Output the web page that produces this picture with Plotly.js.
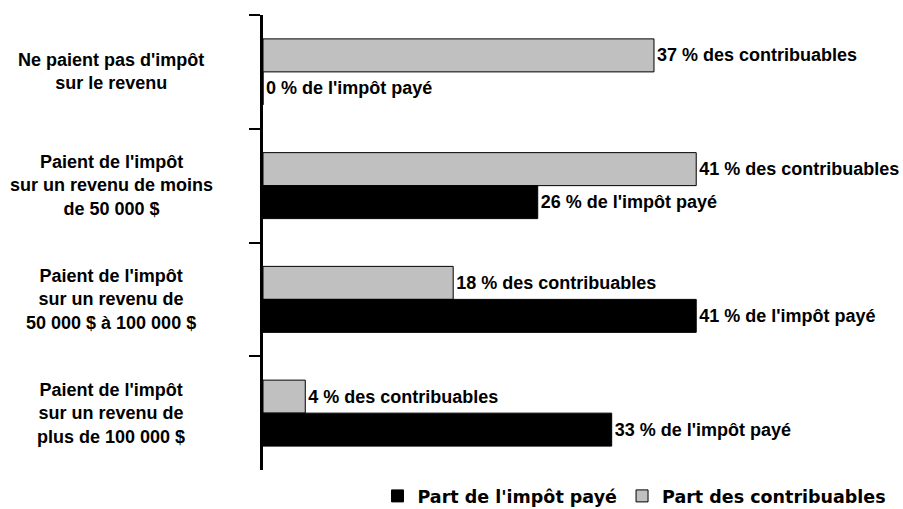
<!DOCTYPE html>
<html>
<head>
<meta charset="utf-8">
<script src="https://cdn.plot.ly/plotly-3.0.1.min.js"></script>
<style>html,body{margin:0;padding:0;background:#fff;}#chart{width:903px;height:509px;}</style>
</head>
<body>
<div id="chart"></div>
<script>
var categories = [
  "Ne paient pas d'impôt<br>sur le revenu",
  "Paient de l'impôt<br>sur un revenu de moins<br>de 50 000 $",
  "Paient de l'impôt<br>sur un revenu de<br>50 000 $ à 100 000 $",
  "Paient de l'impôt<br>sur un revenu de<br>plus de 100 000 $"
];
var partContribuables = [37, 41, 18, 4];
var partImpot = [0, 26, 41, 33];
var seriesNames = ["Part des contribuables", "Part de l'impôt payé"];
var labelSuffix = [" % des contribuables", " % de l'impôt payé"];

var fontFam = "Liberation Sans, Arial, sans-serif";
var textFont = {family: fontFam, size: 18, color: "#000", weight: "bold"};

var traces = [
  {
    type: "bar", orientation: "h", name: seriesNames[0],
    y: categories, x: partContribuables,
    marker: {color: "#c0c0c0", line: {color: "#000", width: 1}},
    texttemplate: "%{x}" + labelSuffix[0], textposition: "outside",
    constraintext: "none", cliponaxis: false,
    textfont: textFont, hoverinfo: "skip"
  },
  {
    type: "bar", orientation: "h", name: seriesNames[1],
    y: categories, x: partImpot,
    marker: {color: "#000000", line: {color: "#000", width: 1}},
    texttemplate: "%{x}" + labelSuffix[1], textposition: "outside",
    constraintext: "none", cliponaxis: false,
    textfont: textFont, hoverinfo: "skip"
  }
];

var annotations = categories.map(function (c) {
  return {
    xref: "paper", yref: "y", x: -0.2397, y: c,
    text: c, showarrow: false, xanchor: "center", yanchor: "middle",
    align: "center", font: {family: fontFam, size: 18, color: "#000", weight: "bold"}
  };
});

var layout = {
  width: 903, height: 509,
  margin: {l: 263, r: 6, t: 15, b: 39, autoexpand: false},
  paper_bgcolor: "#fff", plot_bgcolor: "#fff",
  barmode: "group", bargap: 0.42, bargroupgap: 0,
  showlegend: true,
  legend: {
    orientation: "h", traceorder: "reversed",
    xref: "paper", x: 0.1806, xanchor: "left",
    yref: "container", y: 0.0255, yanchor: "middle",
    font: {family: "DejaVu Sans, sans-serif", size: 17.5, color: "#000", weight: "bold"},
    itemwidth: 30
  },
  xaxis: {range: [0, 60], visible: false, fixedrange: true},
  yaxis: {
    type: "category", autorange: "reversed",
    showticklabels: false, showgrid: false, zeroline: false,
    showline: true, linecolor: "#000", linewidth: 3,
    ticks: "outside", tickson: "boundaries", ticklen: 11,
    tickwidth: 2, tickcolor: "#000"
  },
  annotations: annotations
};

Plotly.newPlot("chart", traces, layout, {staticPlot: true, displayModeBar: false});
</script>
</body>
</html>
